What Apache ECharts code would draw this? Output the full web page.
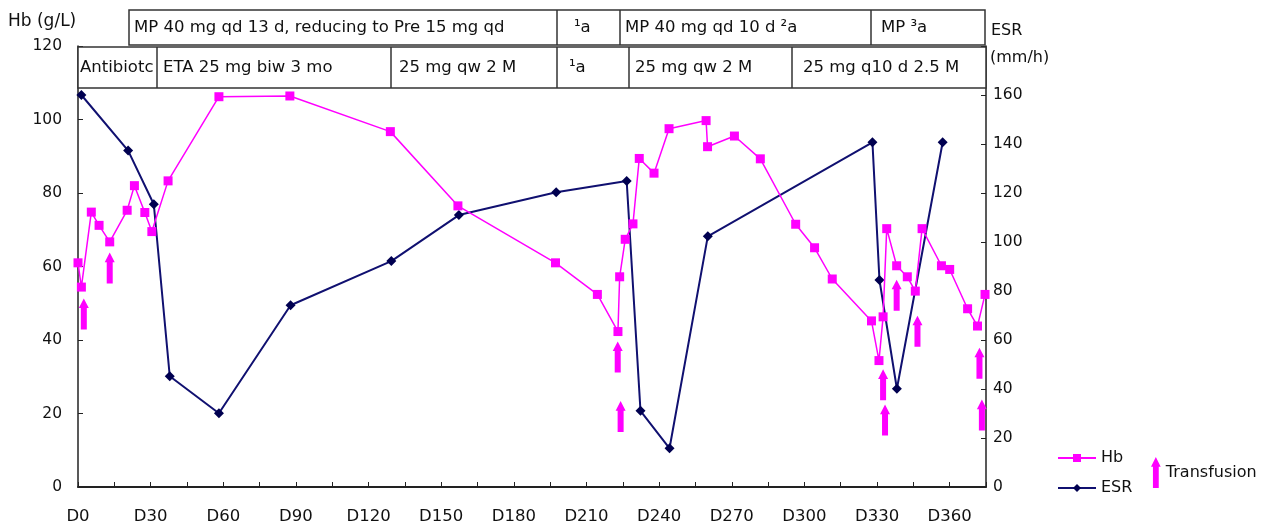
<!DOCTYPE html>
<html><head><meta charset="utf-8">
<script src="https://cdn.jsdelivr.net/npm/echarts@6/dist/echarts.min.js"></script>
<style>html,body{margin:0;padding:0;background:#fff}#c{width:1263px;height:529px}</style>
</head><body><div id="c"></div>
<script>
// ---- data ----
const xTickLabels = ['D0','D30','D60','D90','D120','D150','D180','D210','D240','D270','D300','D330','D360'];
const hbDays = [0,1.4,5.5,8.7,13.1,20.3,23.3,27.6,30.5,37.2,58.2,87.5,129,156.9,197.2,214.5,223,223.7,226,229.2,231.8,237.9,244.1,259.4,260,271.1,281.8,296.4,304.2,311.5,327.7,330.8,332.5,334,338.1,342.5,345.8,348.6,356.6,360,367.4,371.5,374.6];
const hbValues = [61,54.4,74.8,71.2,66.7,75.3,82,74.7,69.5,83.3,106.2,106.4,96.7,76.5,61,52.4,42.3,57.2,67.4,71.6,89.4,85.4,97.5,99.7,92.6,95.5,89.3,71.5,65.1,56.6,45.2,34.4,46.3,70.3,60.2,57.2,53.3,70.3,60.2,59.2,48.5,43.8,52.4];
const esrDays = [1.4,20.7,31.3,37.9,58.2,87.8,129.4,157.3,197.5,226.6,232.3,244.3,260.1,328.1,331,338.2,357.1];
const esrValues = [160,137.3,115.4,45.2,30.1,74.2,92.2,111,120.3,124.9,31.1,15.8,102.3,140.7,84.5,40.1,140.7];
const transfusionDays = [2.4,13.1,222.9,224.1,332.5,333.3,338.1,346.7,372.3,373.3];
const transfusionLevels = [47.1,59.6,35.4,19.2,27.8,18.2,52.2,42.4,33.7,19.6];
const hbTicks = [0,20,40,60,80,100,120];
const esrTicks = [0,20,40,60,80,100,120,140,160];

const row1Labels = ['MP 40 mg qd 13 d, reducing to Pre 15 mg qd','\u00B9a','MP 40 mg qd 10 d \u00B2a','MP \u00B3a'];
const row2Labels = ['Antibiotc','ETA 25 mg biw 3 mo','25 mg qw 2 M','\u00B9a','25 mg qw 2 M','25 mg q10 d 2.5 M'];

const FONT = 'DejaVu Sans';
const arrowPath = 'path://M5,0 L10,10 L8,10 L8,32 L2,32 L2,10 L0,10 Z';

function pairs(xs, ys){ return xs.map((x,i)=>[x, ys[i]]); }

// header boxes (decoration)
const row1 = {y:10, h:35, edges:[129,557,620,871,985], textX:[134,574,625,881]};
const row2 = {y:47, h:41, edges:[78,157,391,557,629,792,986], textX:[80,163,399,569,635,803]};
const graphics = [];
function addRow(r, labels){
  graphics.push({type:'rect', shape:{x:r.edges[0], y:r.y, width:r.edges[r.edges.length-1]-r.edges[0], height:r.h}, style:{fill:'#fff', stroke:'#333', lineWidth:1.5}, z:10});
  for(let i=1;i<r.edges.length-1;i++){
    graphics.push({type:'line', shape:{x1:r.edges[i], y1:r.y, x2:r.edges[i], y2:r.y+r.h}, style:{stroke:'#333', lineWidth:1.5}, z:11});
  }
  labels.forEach((t,i)=>{
    graphics.push({type:'text', x:r.textX[i], y:r.y+r.h/2, style:{text:t, fill:'#111', font:'16.5px "'+FONT+'"', verticalAlign:'middle'}, z:12});
  });
}
addRow(row1,row1Labels);
addRow(row2,row2Labels);
graphics.push({type:'text', x:8, y:22, style:{text:'Hb (g/L)', fill:'#111', font:'17px "'+FONT+'"', verticalAlign:'middle'}});
graphics.push({type:'text', x:991, y:31, style:{text:'ESR', fill:'#111', font:'16px "'+FONT+'"', verticalAlign:'middle'}});
graphics.push({type:'text', x:990, y:58, style:{text:'(mm/h)', fill:'#111', font:'16px "'+FONT+'"', verticalAlign:'middle'}});

const chart = echarts.init(document.getElementById('c'));
chart.setOption({
  animation:false,
  textStyle:{fontFamily:FONT},
  grid:{left:78, right:277, top:46, bottom:42},
  xAxis:{type:'value', min:0, max:375, interval:15,
    axisLine:{lineStyle:{color:'#222', width:2}},
    axisTick:{inside:true, length:5, lineStyle:{color:'#222'}},
    axisLabel:{margin:21, fontSize:16.5, color:'#111', formatter:v=> (v%30===0 && v/30 < xTickLabels.length) ? xTickLabels[v/30] : ''},
    splitLine:{show:false}},
  yAxis:[
    {type:'value', min:0, max:120, interval:20, position:'left',
      axisLine:{show:true, lineStyle:{color:'#222', width:1.5}},
      axisTick:{show:true, inside:true, length:5, lineStyle:{color:'#222'}},
      axisLabel:{margin:16, fontSize:15.5, color:'#111', formatter:v=> hbTicks.includes(v) ? String(v) : ''},
      splitLine:{show:false}},
    {type:'value', min:0, max:180, interval:20, position:'right',
      axisLine:{show:true, lineStyle:{color:'#222', width:1.5}},
      axisTick:{show:true, inside:true, length:5, lineStyle:{color:'#222'}},
      axisLabel:{margin:7, fontSize:15.5, color:'#111', formatter:v=> esrTicks.includes(v) ? String(v) : ''},
      splitLine:{show:false}}
  ],
  legend:[
    {data:['Hb','ESR'], orient:'vertical', left:1052, top:445, itemWidth:38, itemHeight:10, itemGap:14,
      textStyle:{fontSize:16, color:'#111', fontFamily:FONT}},
    {data:[{name:'Transfusion', icon:arrowPath}], left:1146, top:452, itemWidth:10, itemHeight:31, itemGap:4,
      textStyle:{fontSize:16, color:'#111', fontFamily:FONT}}
  ],
  graphic:graphics,
  series:[
    {name:'ESR', type:'line', yAxisIndex:1, data:pairs(esrDays, esrValues),
      symbol:'diamond', symbolSize:10, lineStyle:{color:'#101070', width:2}, itemStyle:{color:'#000050'}, z:3},
    {name:'Hb', type:'line', yAxisIndex:0, data:pairs(hbDays, hbValues),
      symbol:'rect', symbolSize:9, lineStyle:{color:'#ff00ff', width:1.5}, itemStyle:{color:'#ff00ff'}, z:4},
    {name:'Transfusion', type:'scatter', yAxisIndex:0, data:pairs(transfusionDays, transfusionLevels),
      symbol:arrowPath, symbolSize:[10,31], itemStyle:{color:'#ff00ff', opacity:1}, z:5}
  ]
});
</script></body></html>
